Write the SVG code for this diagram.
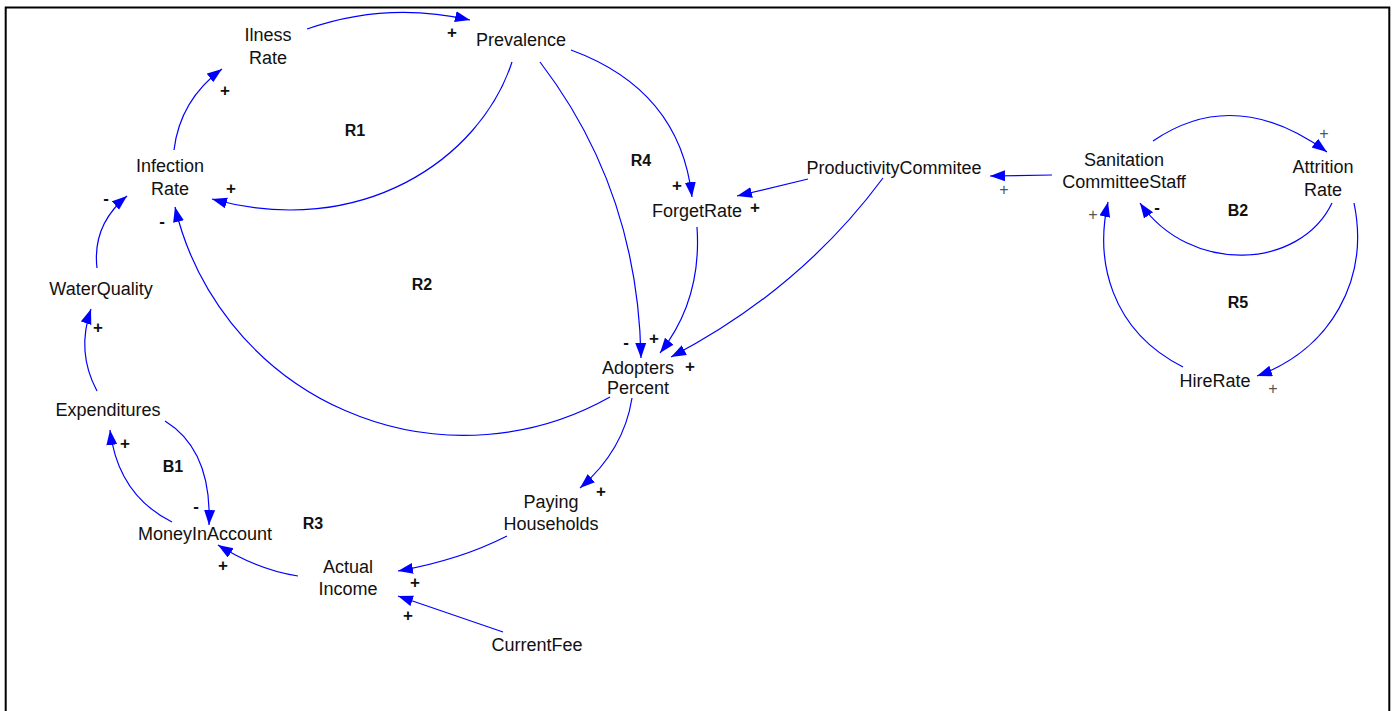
<svg xmlns="http://www.w3.org/2000/svg" width="1397" height="711" viewBox="0 0 1397 711">
  <defs>
    <marker id="arrow" markerUnits="userSpaceOnUse" markerWidth="16" markerHeight="12" refX="15" refY="5.5" orient="auto">
      <path d="M0,0 L15,5.5 L0,11 z" fill="#0000ff"/>
    </marker>
    <style>
      .lbl { font-family: "Liberation Sans", Arial, sans-serif; font-size: 18px; fill: #111; text-anchor: middle; }
      .loop { font-family: "Liberation Sans", Arial, sans-serif; font-size: 16px; font-weight: bold; fill: #111; text-anchor: middle; }
      .sign { font-family: "Liberation Sans", Arial, sans-serif; font-size: 17px; font-weight: bold; fill: #111; text-anchor: middle; }
      .sign2 { font-family: "Liberation Sans", Arial, sans-serif; font-size: 16px; fill: #555; text-anchor: middle; }
      .link { fill: none; stroke: #0000ff; stroke-width: 1.2; marker-end: url(#arrow); }
    </style>
  </defs>

  <rect width="1397" height="711" fill="#ffffff"/>
  <!-- page frame -->
  <path d="M5.7,730 V7.5 H1389.3 V730" fill="none" stroke="#000" stroke-width="2"/>

  <!-- connectors -->
  <g id="connectors">
    <path class="link" d="M307,29 Q387,1 470,20"/>
    <path class="link" d="M174,150 Q180,100 222,69"/>
    <path class="link" d="M512,62 C480,160 360,240 212,199"/>
    <path class="link" d="M97,268 Q92,225 127,196"/>
    <path class="link" d="M610,397 A297,297 0 0 1 175,207"/>
    <path class="link" d="M97,391 Q76,352 91,309"/>
    <path class="link" d="M172,522 Q118,495 110,430"/>
    <path class="link" d="M165,421 Q212,450 209,525"/>
    <path class="link" d="M298,576 Q258,570 218,545"/>
    <path class="link" d="M507,536 Q460,560 398,571"/>
    <path class="link" d="M503,632 L398,596"/>
    <path class="link" d="M632,398 Q624,450 580,488"/>
    <path class="link" d="M540,62 Q638,190 641,358"/>
    <path class="link" d="M697,227 Q702,300 660,353"/>
    <path class="link" d="M571,50 Q680,90 692,197"/>
    <path class="link" d="M808,179 L737,196"/>
    <path class="link" d="M883,178 Q800,290 671,357"/>
    <path class="link" d="M1052,175 L990,176"/>
    <path class="link" d="M1153,141 Q1235,85 1327,152"/>
    <path class="link" d="M1332,203 C1300,270 1190,275 1140,203"/>
    <path class="link" d="M1354,203 C1370,280 1330,350 1257,376"/>
    <path class="link" d="M1183,367 C1110,330 1095,260 1108,202"/>
  </g>

  <!-- variables -->
  <g id="ilness-rate"><text class="lbl" x="268" y="41">Ilness</text><text class="lbl" x="268" y="64">Rate</text></g>
  <g id="prevalence"><text class="lbl" x="521" y="46">Prevalence</text></g>
  <g id="infection-rate"><text class="lbl" x="170" y="172">Infection</text><text class="lbl" x="170" y="195">Rate</text></g>
  <g id="water-quality"><text class="lbl" x="101" y="295">WaterQuality</text></g>
  <g id="expenditures"><text class="lbl" x="108" y="416">Expenditures</text></g>
  <g id="money-in-account"><text class="lbl" x="205" y="540">MoneyInAccount</text></g>
  <g id="actual-income"><text class="lbl" x="348" y="573">Actual</text><text class="lbl" x="348" y="595">Income</text></g>
  <g id="paying-households"><text class="lbl" x="551" y="508">Paying</text><text class="lbl" x="551" y="530">Households</text></g>
  <g id="current-fee"><text class="lbl" x="537" y="651">CurrentFee</text></g>
  <g id="adopters-percent"><text class="lbl" x="638" y="374">Adopters</text><text class="lbl" x="638" y="394">Percent</text></g>
  <g id="forget-rate"><text class="lbl" x="697" y="217">ForgetRate</text></g>
  <g id="productivity-commitee"><text class="lbl" x="894" y="174">ProductivityCommitee</text></g>
  <g id="sanitation-committee-staff"><text class="lbl" x="1124" y="166">Sanitation</text><text class="lbl" x="1124" y="188">CommitteeStaff</text></g>
  <g id="attrition-rate"><text class="lbl" x="1323" y="173">Attrition</text><text class="lbl" x="1323" y="196">Rate</text></g>
  <g id="hire-rate"><text class="lbl" x="1215" y="387">HireRate</text></g>

  <!-- loop markers -->
  <g id="loops">
    <text class="loop" x="355" y="136">R1</text>
    <text class="loop" x="641" y="166">R4</text>
    <text class="loop" x="422" y="290">R2</text>
    <text class="loop" x="173" y="472">B1</text>
    <text class="loop" x="313" y="529">R3</text>
    <text class="loop" x="1238" y="216">B2</text>
    <text class="loop" x="1238" y="308">R5</text>
  </g>

  <!-- link polarities -->
  <g id="polarities">
    <text class="sign" x="452" y="38">+</text>
    <text class="sign" x="225" y="96">+</text>
    <text class="sign" x="231" y="194">+</text>
    <text class="sign" x="106" y="204">-</text>
    <text class="sign" x="162" y="227">-</text>
    <text class="sign" x="98" y="333">+</text>
    <text class="sign" x="125" y="449">+</text>
    <text class="sign" x="196" y="512">-</text>
    <text class="sign" x="223" y="571">+</text>
    <text class="sign" x="415" y="588">+</text>
    <text class="sign" x="408" y="621">+</text>
    <text class="sign" x="601" y="497">+</text>
    <text class="sign" x="626" y="348">-</text>
    <text class="sign" x="654" y="344">+</text>
    <text class="sign" x="690" y="372">+</text>
    <text class="sign" x="677" y="191">+</text>
    <text class="sign" x="755" y="213">+</text>
    <text class="sign" x="1157" y="213">-</text>
    <text class="sign2" x="1004" y="195">+</text>
    <text class="sign2" x="1324" y="139">+</text>
    <text class="sign2" x="1093" y="220">+</text>
    <text class="sign2" x="1273" y="394">+</text>
  </g>
</svg>
